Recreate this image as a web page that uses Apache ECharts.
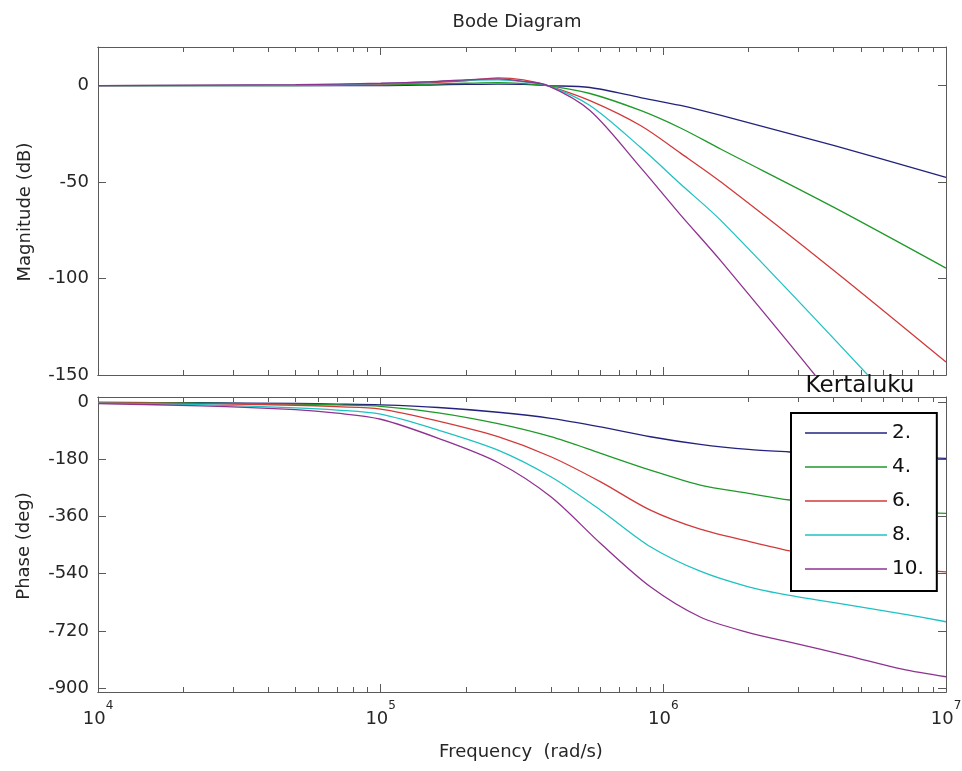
<!DOCTYPE html>
<html>
<head>
<meta charset="utf-8">
<title>Bode Diagram</title>
<script src="https://cdn.jsdelivr.net/npm/echarts@6/dist/echarts.min.js"></script>
<style>
  html, body { margin: 0; padding: 0; background: #fff; }
  #chart { width: 962px; height: 771px; }
</style>
</head>
<body>
<div id="chart"></div>
<script>
// legend names (filter order) and matlab-ish line colours
const orders = ['2.', '4.', '6.', '8.', '10.'];
const colors = ['#23237e', '#1f9a2a', '#d23a3a', '#1fc2c2', '#8f3290'];

// magnitude (dB)
const freqMag = [1e4, 5e4, 1e5, 1.5e5, 2e5, 2.6e5, 3.2e5, 3.9e5, 5.5e5, 8.3e5, 1.15e6, 1.6e6, 4e6, 1e7];
const mag2  = [0, 0, 0, 0.3, 0.6, 0.8, 0.6, 0, -1, -6.2, -10.3, -15.5, -31, -47.6];
const mag4  = [0, 0, 0.3, 0.8, 1.2, 1.5, 1.0, 0, -4.1, -12.9, -22, -33, -63, -94.6];
const mag6  = [0, 0.2, 0.8, 1.5, 2.5, 4.0, 3.0, 0, -7.8, -20.7, -35, -50, -95.7, -143.3];
const mag8  = [0, 0.3, 1.0, 2.0, 2.8, 3.0, 2.0, 0, -10.3, -32, -51, -70, -131, -193.6];
const mag10 = [0, 0.5, 1.2, 2.0, 3.0, 3.5, 2.2, 0, -12.9, -42.4, -67, -91, -162, -237.5];

// phase (deg)
const freqPhase = [1e4, 2.3e4, 5e4, 7e4, 1e5, 1.6e5, 2.6e5, 4e5, 6e5, 9e5, 1.35e6, 2e6, 2.8e6, 4.5e6, 7e6, 1e7];
const phase2  = [-1, -2, -4.5, -6.3, -9, -17, -32, -51, -78, -109, -133, -149, -157, -167, -173, -177];
const phase4  = [-1.3, -3, -6.5, -9, -13.5, -34, -68, -109, -161, -214, -261, -287, -308, -330, -343, -350];
const phase6  = [-2, -4.6, -10, -14.5, -22, -60, -109, -172, -251, -340, -400, -438, -468, -500, -522, -534];
const phase8  = [-3.6, -8.3, -18, -25, -38, -88, -151, -235, -340, -455, -532, -581, -608, -638, -666, -691];
const phase10 = [-5, -11.7, -24, -35, -54, -114, -190, -298, -445, -581, -676, -725, -755, -798, -840, -864];

// tick values
const decadeTicks = [1e4, 1e5, 1e6, 1e7];
const minorTicks = [2e4, 3e4, 4e4, 5e4, 6e4, 7e4, 8e4, 9e4,
                    2e5, 3e5, 4e5, 5e5, 6e5, 7e5, 8e5, 9e5,
                    2e6, 3e6, 4e6, 5e6, 6e6, 7e6, 8e6, 9e6];
const magTicks = [0, -50, -100, -150];
const phaseTicks = [0, -180, -360, -540, -720, -900];

const font = 'DejaVu Sans';
const textColor = '#262626';
const axisColor = '#5a5a5a';

function xAxis(gridIndex, position, ticks, len, showLabel) {
    return {
        type: 'log', logBase: 10, min: 1e4, max: 1e7,
        gridIndex: gridIndex, position: position,
        axisLine: { show: true, onZero: false, lineStyle: { color: axisColor, width: 1 } },
        axisTick: { show: true, inside: true, length: len, customValues: ticks, lineStyle: { color: axisColor } },
        axisLabel: {
            show: showLabel, customValues: ticks, margin: 8,
            formatter: v => '{b|10}{e|' + Math.round(Math.log10(v)) + '}',
            rich: {
                b: { fontFamily: font, fontSize: 18, color: textColor, verticalAlign: 'bottom', lineHeight: 28 },
                e: { fontFamily: font, fontSize: 12, color: textColor, verticalAlign: 'top', lineHeight: 28 }
            }
        },
        splitLine: { show: false }
    };
}

function yAxis(gridIndex, position, min, max, ticks, showLabel) {
    return {
        type: 'value', min: min, max: max,
        gridIndex: gridIndex, position: position,
        axisLine: { show: true, onZero: false, lineStyle: { color: axisColor, width: 1 } },
        axisTick: { show: true, inside: true, length: 8, customValues: ticks, lineStyle: { color: axisColor } },
        axisLabel: { show: showLabel, customValues: ticks, margin: 9, fontFamily: font, fontSize: 18, color: textColor },
        splitLine: { show: false }
    };
}

function toPairs(xs, ys) {
    return xs.map((x, i) => [x, ys[i]]);
}

const magSets = [mag2, mag4, mag6, mag8, mag10];
const phaseSets = [phase2, phase4, phase6, phase8, phase10];

const series = [];
orders.forEach((name, i) => {
    series.push({
        name: name, type: 'line', xAxisIndex: 0, yAxisIndex: 0,
        data: toPairs(freqMag, magSets[i]),
        symbol: 'none', smooth: 0.3,
        lineStyle: { color: colors[i], width: 1.3 }, itemStyle: { color: colors[i] }
    });
});
orders.forEach((name, i) => {
    series.push({
        name: name, type: 'line', xAxisIndex: 4, yAxisIndex: 2,
        data: toPairs(freqPhase, phaseSets[i]),
        symbol: 'none', smooth: 0.3,
        lineStyle: { color: colors[i], width: 1.3 }, itemStyle: { color: colors[i] }
    });
});

const option = {
    backgroundColor: '#fff',
    animation: false,
    grid: [
        { left: 98, right: 16, top: 47, height: 328, outerBoundsMode: 'none', containLabel: false },
        { left: 98, right: 16, top: 397, height: 295, outerBoundsMode: 'none', containLabel: false }
    ],
    xAxis: [
        xAxis(0, 'bottom', decadeTicks, 8, false),
        xAxis(0, 'bottom', minorTicks, 5, false),
        xAxis(0, 'top', decadeTicks, 8, false),
        xAxis(0, 'top', minorTicks, 5, false),
        xAxis(1, 'bottom', decadeTicks, 8, true),
        xAxis(1, 'bottom', minorTicks, 5, false),
        xAxis(1, 'top', decadeTicks, 8, false),
        xAxis(1, 'top', minorTicks, 5, false)
    ],
    yAxis: [
        yAxis(0, 'left', -150, 20, magTicks, true),
        yAxis(0, 'right', -150, 20, magTicks, false),
        yAxis(1, 'left', -912, 16, phaseTicks, true),
        yAxis(1, 'right', -912, 16, phaseTicks, false)
    ],
    legend: {
        data: orders,
        orient: 'vertical',
        left: 791, top: 413,
        padding: [10, 13, 12, 14],
        itemGap: 14,
        itemWidth: 82, itemHeight: 1.5,
        icon: 'rect',
        selectedMode: false,
        backgroundColor: '#fff',
        borderColor: '#000', borderWidth: 2,
        textStyle: { fontFamily: font, fontSize: 20, color: '#111', lineHeight: 20 }
    },
    graphic: [
        { type: 'text', x: 517, y: 22, z: 10,
          style: { text: 'Bode Diagram', fontFamily: font, fontSize: 18, fill: textColor, align: 'center', verticalAlign: 'middle' } },
        { type: 'text', x: 25, y: 212, rotation: Math.PI / 2, z: 10,
          style: { text: 'Magnitude (dB)', fontFamily: font, fontSize: 18, fill: textColor, align: 'center', verticalAlign: 'middle' } },
        { type: 'text', x: 24, y: 546, rotation: Math.PI / 2, z: 10,
          style: { text: 'Phase (deg)', fontFamily: font, fontSize: 18, fill: textColor, align: 'center', verticalAlign: 'middle' } },
        { type: 'text', x: 521, y: 752, z: 10,
          style: { text: 'Frequency  (rad/s)', fontFamily: font, fontSize: 18, fill: textColor, align: 'center', verticalAlign: 'middle' } },
        { type: 'text', x: 860, y: 386, z: 10,
          style: { text: 'Kertaluku', fontFamily: font, fontSize: 23, fill: '#111', align: 'center', verticalAlign: 'middle' } }
    ],
    series: series
};

const chart = echarts.init(document.getElementById('chart'));
chart.setOption(option);
window.addEventListener('resize', () => chart.resize());
</script>
</body>
</html>
